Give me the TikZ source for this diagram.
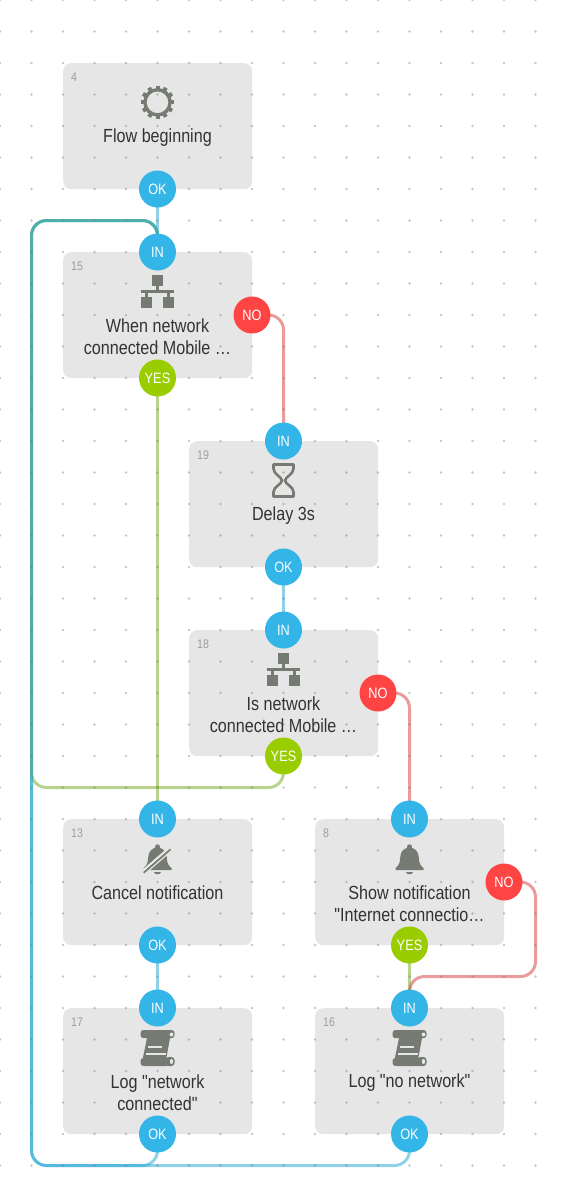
\documentclass[tikz,border=0pt]{standalone}
\usepackage{fontspec}
\setmainfont[FakeStretch=0.85,Ligatures=TeXOff]{Liberation Sans}
\definecolor{boxc}{HTML}{E6E6E6}
\definecolor{blu}{HTML}{33B5E8}
\definecolor{grn}{HTML}{9ACD00}
\definecolor{rd}{HTML}{FF4444}
\definecolor{lblu}{HTML}{1FA4D4}
\definecolor{lgrn}{HTML}{74A820}
\definecolor{lrd}{HTML}{D53A3A}
\definecolor{ico}{HTML}{757A72}
\definecolor{txt}{HTML}{333333}
\pgfdeclarelayer{back}
\pgfdeclarelayer{mid}
\pgfsetlayers{back,mid,main}
\tikzset{
  x=1pt,y=-1pt,
  cardbox/.style={fill=boxc,rounded corners=8pt,minimum width=189pt,minimum height=126pt,inner sep=0pt,anchor=north west},
  port/.style={circle,minimum size=37pt,inner sep=0pt,text=white,font=\fontsize{15}{16}\selectfont},
  inport/.style={port,fill=blu},
  yesport/.style={port,fill=grn},
  noport/.style={port,fill=rd},
  idlabel/.style={anchor=west,inner sep=0pt,text=black!38,font=\fontsize{12.5}{14}\selectfont},
  title/.style={align=center,inner sep=0pt,text=txt,font=\fontsize{19}{22}\selectfont},
  wire/.style={line width=3pt,rounded corners=15pt,draw opacity=.5},
  bluewire/.style={wire,draw=lblu},
  greenwire/.style={wire,draw=lgrn},
  redwire/.style={wire,draw=lrd},
  geargly/.pic={
    \draw[ico,line width=3.4pt] (0,0) circle[radius=12.6];
    \foreach \a in {0,30,...,330}
      \draw[ico,line width=4pt] (\a:13) -- (\a:16.8);
  },
  netgly/.pic={
    \fill[ico] (-5.5,-16.5) rectangle (5.5,-5.5);
    \fill[ico] (-1.2,-5.5) rectangle (1.2,-1.5);
    \fill[ico] (-16.5,-1.5) rectangle (16.5,1.5);
    \fill[ico] (-12.2,1.5) rectangle (-9.8,5);
    \fill[ico] (9.8,1.5) rectangle (12.2,5);
    \fill[ico] (-16.5,5) rectangle (-5.5,16);
    \fill[ico] (5,5) rectangle (16,16);
  },
  hourgly/.pic={
    \draw[ico,line width=2.6pt,line join=round]
      (-10,-16) -- (10,-16) -- (10,-12)
      .. controls (10,-6) and (2,-4) .. (1.5,0)
      .. controls (2,4) and (10,6) .. (10,11.5) -- (10,16) -- (-10,16) -- (-10,11.5)
      .. controls (-10,6) and (-2,4) .. (-1.5,0)
      .. controls (-2,-4) and (-10,-6) .. (-10,-12) -- cycle;
  },
  bellgly/.pic={
    \fill[ico] (-14,10.5) -- (14,10.5) -- (14,8.5)
      .. controls (10.5,6) and (9.5,3) .. (9.3,-2)
      .. controls (9,-8.5) and (5.5,-10.5) .. (2.7,-11.5)
      .. controls (3,-16.5) and (-3,-16.5) .. (-2.7,-11.5)
      .. controls (-5.5,-10.5) and (-9,-8.5) .. (-9.3,-2)
      .. controls (-9.5,3) and (-10.5,6) .. (-14,8.5) -- cycle;
    \fill[ico] (-3.5,12.6) -- (3.5,12.6) .. controls (3,15.5) and (-3,15.5) .. (-3.5,12.6) -- cycle;
  },
  slashgly/.pic={
    \draw[boxc,line width=2.6pt] (-14,11) -- (12.5,-12);
    \draw[boxc,line width=1.4pt] (-13,14.5) -- (14,-9);
    \draw[ico,line width=1.6pt] (-13.8,13.2) -- (13,-10.2);
  },
  scrollgly/.pic={
    \fill[ico,rounded corners=3pt] (-17,-18) rectangle (17,-9.8);
    \fill[boxc] (14,-13.5) circle[radius=2];
    \fill[ico] (-10.5,-10) -- (12.5,-10) -- (8.5,12) -- (-15,12) -- cycle;
    \fill[ico,rounded corners=3pt] (-17,10) rectangle (12,18);
    \fill[ico,rounded corners=3pt] (8,9) rectangle (17,18);
    \fill[boxc] (14,13.5) ellipse[x radius=1.6,y radius=2.6];
    \fill[boxc] (-9.5,-2.2) rectangle (4.5,0.3);
    \fill[boxc] (-11.5,4.5) rectangle (8,7);
  },
}
\begin{document}
\begin{tikzpicture}
\useasboundingbox (0,0) rectangle (567,1197);
% ports
\node[inport] (ok4) at (157.5,189) {OK};
\node[inport] (in15) at (157.5,252) {IN};
\node[noport] (no15) at (252,315) {NO};
\node[yesport] (yes15) at (157.5,378) {YES};
\node[inport] (in19) at (283.5,441) {IN};
\node[inport] (ok19) at (283.5,567) {OK};
\node[inport] (in18) at (283.5,630) {IN};
\node[noport] (no18) at (378,693) {NO};
\node[yesport] (yes18) at (283.5,756) {YES};
\node[inport] (in13) at (157.5,819) {IN};
\node[inport] (ok13) at (157.5,945) {OK};
\node[inport] (in8) at (409.5,819) {IN};
\node[noport] (no8) at (504,882) {NO};
\node[yesport] (yes8) at (409.5,945) {YES};
\node[inport] (in17) at (157.5,1008) {IN};
\node[inport] (ok17) at (157.5,1134) {OK};
\node[inport] (in16) at (409.5,1008) {IN};
\node[inport] (ok16) at (409.5,1134) {OK};
% routing points
\coordinate (railtop) at (31.5,220.5);
\coordinate (raintop) at (157.5,220.5);
\coordinate (railmid) at (31.5,787.5);
\coordinate (railbot) at (31.5,1165.5);
\coordinate (b17) at (157.5,1165.5);
\coordinate (b16) at (409.5,1165.5);
\coordinate (m18) at (283.5,787.5);
\coordinate (n15) at (283.5,315);
\coordinate (n18) at (409.5,693);
\coordinate (n8a) at (535.5,882);
\coordinate (n8b) at (535.5,976.5);
\coordinate (n8c) at (409.5,976.5);
\begin{pgfonlayer}{back}
\node[cardbox] (box4) at (63,63) {};
\node[cardbox] (box15) at (63,252) {};
\node[cardbox] (box19) at (189,441) {};
\node[cardbox] (box18) at (189,630) {};
\node[cardbox] (box13) at (63,819) {};
\node[cardbox] (box8) at (315,819) {};
\node[cardbox] (box17) at (63,1008) {};
\node[cardbox] (box16) at (315,1008) {};
\draw[bluewire] (ok4.center) -- (in15.center);
\draw[bluewire] (ok19.center) -- (in18.center);
\draw[bluewire] (ok13.center) -- (in17.center);
\draw[greenwire] (yes15.center) -- (in13.center);
\draw[greenwire] (yes8.center) -- (in16.center);
\draw[redwire] (no15.center) -- (n15) -- (in19.center);
\draw[redwire] (no18.center) -- (n18) -- (in8.center);
\draw[redwire] (no8.center) -- (n8a) -- (n8b) -- (n8c) -- (in16.center);
\draw[bluewire] (ok17.center) -- (b17) -- (railbot) -- (railtop) -- (raintop) -- (in15.center);
\draw[greenwire] (yes18.center) -- (m18) -- (railmid) -- (railtop) -- (raintop) -- (in15.center);
\draw[bluewire] (ok16.center) -- (b16) -- (railbot) -- (railtop) -- (raintop) -- (in15.center);
\end{pgfonlayer}
\begin{pgfonlayer}{mid}
\foreach \i in {0,...,17}
  \foreach \j in {0,...,37}
    \fill[black!55,opacity=.4] (\i*31.5,\j*31.5) circle[radius=1.3];
\end{pgfonlayer}
% ids
\node[idlabel] (id4) at (71,77) {4};
\node[idlabel] (id15) at (71,266) {15};
\node[idlabel] (id19) at (197,455) {19};
\node[idlabel] (id18) at (197,644) {18};
\node[idlabel] (id13) at (71,833) {13};
\node[idlabel] (id8) at (323,833) {8};
\node[idlabel] (id17) at (71,1022) {17};
\node[idlabel] (id16) at (323,1022) {16};
% titles
\node[title] (t4) at (157.5,137.5) {Flow beginning};
\node[title] (t15) at (157.5,337) {When network\\connected Mobile …};
\node[title] (t19) at (283.5,515.5) {Delay 3s};
\node[title] (t18) at (283.5,715) {Is network\\connected Mobile …};
\node[title] (t13) at (157.5,893) {Cancel notification};
\node[title] (t8) at (409.5,904) {Show notification\\"Internet connectio…};
\node[title] (t17) at (157.5,1093) {Log "network\\connected"};
\node[title] (t16) at (409.5,1082.5) {Log "no network"};
% icons
\pic at (157.5,102.3) {geargly};
\pic at (157.5,291.5) {netgly};
\pic at (283.5,480.5) {hourgly};
\pic at (283.5,669.5) {netgly};
\pic at (157.5,859.5) {bellgly};
\pic at (157.5,859.5) {slashgly};
\pic at (409.5,859.5) {bellgly};
\pic at (157.5,1048) {scrollgly};
\pic at (409.5,1048) {scrollgly};
\end{tikzpicture}
\end{document}
